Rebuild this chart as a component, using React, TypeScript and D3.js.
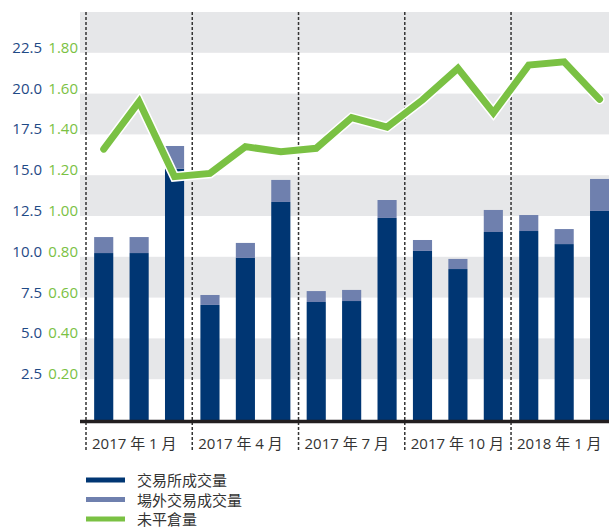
import React from "react";
import * as d3 from "d3";

const months = ["2017-01","2017-02","2017-03","2017-04","2017-05","2017-06","2017-07","2017-08","2017-09","2017-10","2017-11","2017-12","2018-01","2018-02","2018-03"];
const exchangeVol = [10.23,10.23,15.4,7.05,9.93,13.36,7.23,7.29,12.38,10.36,9.25,11.52,11.58,10.78,12.81];
const otcVol = [0.98,0.98,1.39,0.61,0.92,1.35,0.67,0.68,1.1,0.67,0.62,1.35,0.98,0.92,1.96];
const openInterest = [1.328,1.56,1.193,1.209,1.34,1.315,1.332,1.482,1.436,1.569,1.724,1.506,1.74,1.756,1.572];
const leftTicks = [2.5,5.0,7.5,10.0,12.5,15.0,17.5,20.0,22.5];
const rightTicks = [0.2,0.4,0.6,0.8,1.0,1.2,1.4,1.6,1.8];
const quarterIdx = [0,3,6,9,12];
const quarterLabels = ["2017 年 1 月","2017 年 4 月","2017 年 7 月","2017 年 10 月","2018 年 1 月"];
const legendItems = [
  { label: "交易所成交量", color: "#003673" },
  { label: "場外交易成交量", color: "#6f80ae" },
  { label: "未平倉量", color: "#7ac143" },
];

export default function App() {
  const W = 609, H = 528;
  const plotLeft = 80, plotRight = 609, top = 12, bottom = 420;
  const y = d3.scaleLinear().domain([0, 25]).range([bottom, top]);
  const yR = d3.scaleLinear().domain([0, 2.0]).range([bottom, top]);
  const x = d3.scaleBand<string>().domain(months).range([86, 86 + 15 * 35.42]).paddingInner(0.46).paddingOuter(0.23);
  const step = x.step();
  const bw = x.bandwidth();
  const bandStart = (m: string) => (x(m) as number) - (step - bw) / 2;
  const cx = (m: string) => (x(m) as number) + bw / 2;

  const bands: number[] = [];
  for (let v = 25; v > 0; v -= 5) bands.push(v);

  const line = d3.line<number>().x((_, i) => cx(months[i])).y(d => yR(d));
  const pathD = line(openInterest) || "";
  const font = "'Open Sans', 'Noto Sans CJK TC', sans-serif";

  return (
    <svg width={W} height={H} style={{ position: "absolute", left: 0, top: 0 }} fontFamily={font}>
      {bands.map(v => (
        <rect key={v} x={plotLeft} y={y(v)} width={plotRight - plotLeft} height={y(v - 2.5) - y(v)} fill="#e6e7e9" />
      ))}
      {quarterIdx.map(i => (
        <line key={i} x1={bandStart(months[i])} x2={bandStart(months[i])} y1={top} y2={450}
          stroke="#333" strokeWidth={1.5} strokeDasharray="3,2" />
      ))}
      {months.map((m, i) => (
        <g key={m}>
          <rect x={x(m)} y={y(exchangeVol[i])} width={bw} height={bottom - y(exchangeVol[i])} fill="#003673" />
          <rect x={x(m)} y={y(exchangeVol[i] + otcVol[i])} width={bw} height={y(exchangeVol[i]) - y(exchangeVol[i] + otcVol[i])} fill="#6f80ae" />
        </g>
      ))}
      <line x1={plotLeft} x2={plotRight} y1={bottom + 1.5} y2={bottom + 1.5} stroke="#231f20" strokeWidth={3.5} />
      <path d={pathD} fill="none" stroke="#fff" strokeWidth={10} strokeLinecap="round" strokeLinejoin="miter" />
      <path d={pathD} fill="none" stroke="#7ac143" strokeWidth={7} strokeLinecap="round" strokeLinejoin="miter" />
      {leftTicks.map(t => (
        <text key={t} x={42} y={y(t)} textAnchor="end" fontSize={15} fill="#1f4a86">{t.toFixed(1)}</text>
      ))}
      {rightTicks.map(t => (
        <text key={t} x={78} y={yR(t)} textAnchor="end" fontSize={15} fill="#7ac143">{t.toFixed(2)}</text>
      ))}
      {quarterIdx.map((i, k) => (
        <text key={i} x={bandStart(months[i]) + 6} y={449} fontSize={15} fill="#333">{quarterLabels[k]}</text>
      ))}
      {legendItems.map((it, k) => (
        <g key={it.label}>
          <line x1={86} x2={125} y1={480 + k * 19.5} y2={480 + k * 19.5} stroke={it.color} strokeWidth={5} />
          <text x={137} y={480 + k * 19.5} dominantBaseline="central" fontSize={15} fill="#333">{it.label}</text>
        </g>
      ))}
    </svg>
  );
}
